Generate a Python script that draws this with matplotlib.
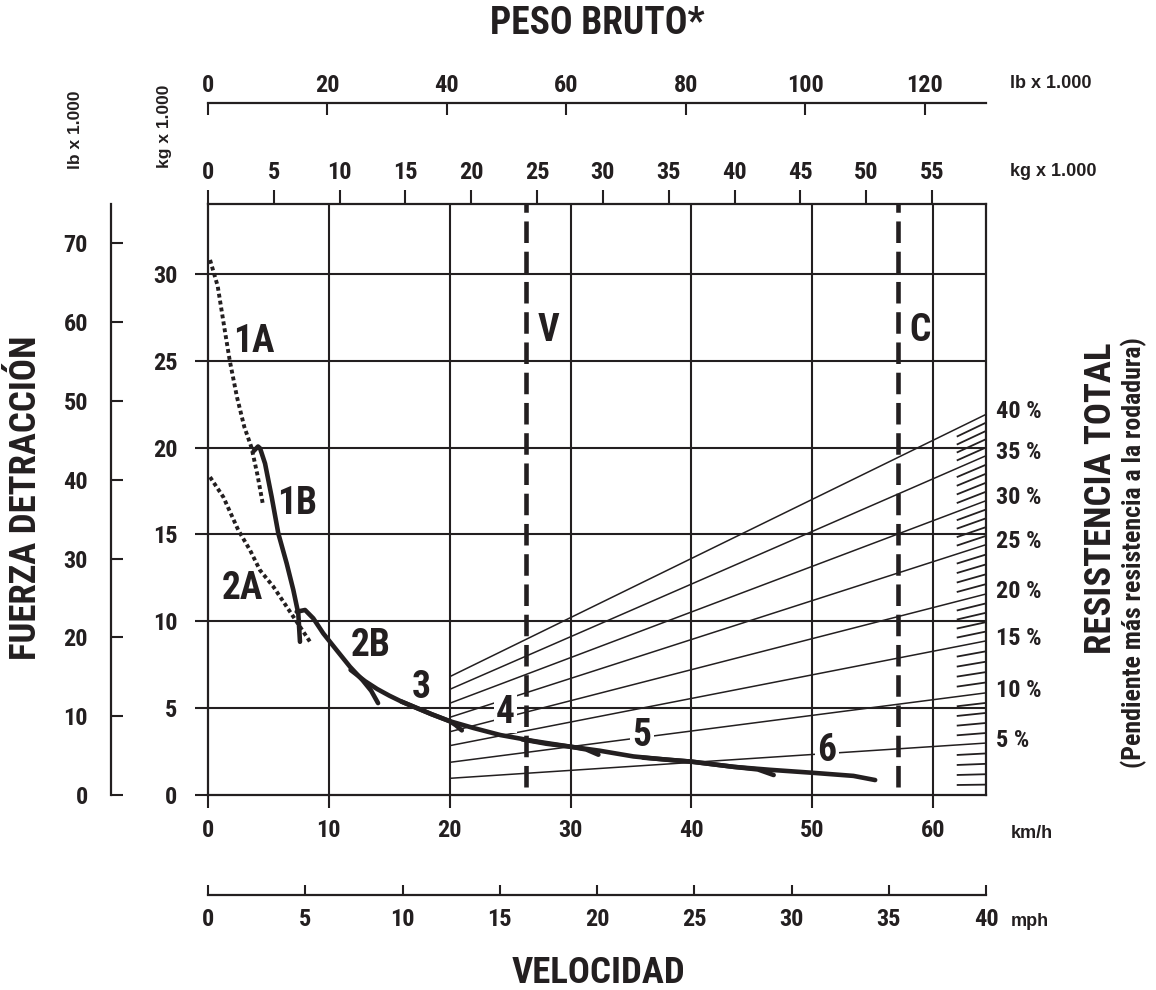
import os
import matplotlib
matplotlib.use("Agg")
import matplotlib.pyplot as plt
from matplotlib import font_manager as fm

W, H = 1156, 990
INK = "#231f20"

# ---- scale limits -------------------------------------------------------
KMH_MAX = 64.37          # = 40 mph
MPH_MAX = 40
FORCE_T_MAX = 34.02      # = 75 lb x 1000
FORCE_LB_MAX = 75
WEIGHT_KG_MAX = 59.1
WEIGHT_LB_MAX = 130.3

# ---- tick values --------------------------------------------------------
kmh_ticks = [0, 10, 20, 30, 40, 50, 60]
mph_ticks = [0, 5, 10, 15, 20, 25, 30, 35, 40]
force_t_ticks = [0, 5, 10, 15, 20, 25, 30]
force_lb_ticks = [0, 10, 20, 30, 40, 50, 60, 70]
weight_kg_ticks = [0, 5, 10, 15, 20, 25, 30, 35, 40, 45, 50, 55]
weight_lb_ticks = [0, 20, 40, 60, 80, 100, 120]

# ---- rimpull curves per gear (km/h, kg x 1000) --------------------------
gear_1a_v = [0.17, 0.8, 1.4, 1.8, 2.4, 3.0, 3.6, 4.1, 4.55]
gear_1a_f = [30.8, 29.3, 26.7, 25.0, 22.9, 21.2, 20.0, 18.4, 16.7]

gear_1b_v = [3.78, 4.14, 4.31, 4.72, 5.27, 5.82, 6.51, 7.06, 7.47, 7.61]
gear_1b_f = [19.8, 20.06, 19.95, 19.08, 17.15, 15.05, 13.33, 11.8, 10.45, 8.82]

gear_2a_v = [0.17, 1.27, 2.51, 3.48, 4.3, 5.41, 6.51, 7.34, 8.44]
gear_2a_f = [18.3, 17.15, 15.24, 14.09, 12.94, 11.99, 10.84, 9.97, 8.82]

gear_2b_v = [7.34, 8.03, 8.71, 9.54, 10.64, 11.75, 12.8, 13.5, 14.07]
gear_2b_f = [10.55, 10.65, 10.17, 9.3, 8.34, 7.38, 6.6, 6.0, 5.29]

gear_3_v = [11.8, 13.0, 14.0, 15.0, 16.0, 17.3, 18.5, 20.0, 20.5, 21.0]
gear_3_f = [7.2, 6.55, 6.1, 5.72, 5.38, 5.0, 4.65, 4.25, 4.02, 3.72]

gear_4_v = [16.0, 17.3, 18.5, 20.0, 22.0, 24.2, 27.0, 30.0, 31.3, 32.3]
gear_4_f = [5.38, 5.0, 4.65, 4.25, 3.85, 3.45, 3.1, 2.78, 2.62, 2.32]

gear_5_v = [26.0, 28.0, 30.0, 32.4, 35.2, 38.0, 40.0, 43.5, 45.5, 46.8]
gear_5_f = [3.2, 2.95, 2.78, 2.55, 2.22, 2.03, 1.92, 1.62, 1.47, 1.15]

gear_6_v = [36.0, 40.0, 43.5, 46.5, 50.0, 53.4, 55.2]
gear_6_f = [2.15, 1.92, 1.62, 1.45, 1.28, 1.1, 0.86]

# ---- total resistance lines (value at 20 km/h and at the right edge) ----
grade_pct = [5, 10, 15, 20, 25, 30, 35, 40]
grade_left_t = [0.96, 1.88, 2.84, 3.64, 4.47, 5.28, 6.08, 6.81]
grade_right_t = [2.99, 5.88, 8.87, 11.57, 14.41, 16.94, 19.53, 21.91]
GRADE_START_KMH = 20

# ---- speed limits of the two body configurations -----------------------
limit_names = ["V", "C"]
limit_kmh = [26.3, 57.05]


# ---- fonts ---------------------------------------------------------------
def condensed_bold():
    """Pick an installed condensed/narrow bold face, else DejaVu condensed."""
    order = ["liberation sans narrow", "roboto condensed", "open sans condensed",
             "noto sans", "open sans", "roboto", "dejavu sans"]
    best = None
    for f in fm.fontManager.ttflist:
        low = os.path.basename(f.fname).lower()
        if not ("narrow" in low or "condensed" in low):
            continue
        if any(k in low for k in ("semi", "extra", "ultra", "italic", "oblique")):
            continue
        w = f.weight if isinstance(f.weight, int) else fm.weight_dict.get(f.weight, 400)
        name = f.name.lower()
        rank = next((i for i, o in enumerate(order) if name.startswith(o)), len(order))
        key = (abs(w - 700), rank)
        if best is None or key < best[0]:
            best = (key, f.fname)
    if best is not None and best[0][0] <= 100:
        return dict(fontproperties=fm.FontProperties(fname=best[1]))
    return dict(family="DejaVu Sans", stretch="condensed", weight="bold")


NARROW = condensed_bold()
BOLD = dict(family="Liberation Sans", weight="bold")


def narrow(size):
    kw = dict(NARROW)
    if "fontproperties" in kw:
        fp = kw["fontproperties"].copy()
        fp.set_size(size)
        return dict(fontproperties=fp)
    kw["fontsize"] = size
    return kw


fig = plt.figure(figsize=(W / 100, H / 100), dpi=100)
fig.patch.set_facecolor("white")


def place(x0, y0, x1, y1):
    return fig.add_axes([x0 / W, 1 - y1 / H, (x1 - x0) / W, (y1 - y0) / H])


def ftext(x, y, s, **kw):
    fig.text(x / W, 1 - y / H, s, color=INK, **kw)


TICK = 17.5
MARK = 27
TITLE = 26.5

# ---- main chart: speed vs rimpull ---------------------------------------
ax = place(208, 204, 986, 795)
ax.set_xlim(0, KMH_MAX)
ax.set_ylim(0, FORCE_T_MAX)
ax.set_facecolor("none")
for s in ax.spines.values():
    s.set_linewidth(1.6)
    s.set_color(INK)
ax.set_xticks(kmh_ticks, labels=[str(t) for t in kmh_ticks], color=INK, **narrow(TICK))
ax.set_yticks(force_t_ticks, labels=[str(t) for t in force_t_ticks], color=INK, **narrow(TICK))
ax.tick_params(axis="both", direction="out", length=9.4, width=1.5, color=INK)
ax.tick_params(axis="x", pad=8.0)
ax.tick_params(axis="y", pad=12.5)

ax.vlines(kmh_ticks[1:], 0, FORCE_T_MAX, color=INK, lw=1.5, zorder=1.5)
ax.hlines(force_t_ticks[1:], 0, KMH_MAX, color=INK, lw=1.5, zorder=1.5)

# total resistance fan
for lt, rt in zip(grade_left_t, grade_right_t):
    ax.plot([GRADE_START_KMH, KMH_MAX], [lt, rt], color=INK, lw=1.1, zorder=2,
            solid_capstyle="butt")

# 1 % scale marks along the right edge, following the fan
fan_l = [0.0] + grade_left_t
fan_r = [0.0] + grade_right_t
hatch_from = 61.95
span = KMH_MAX - GRADE_START_KMH
for p in range(1, grade_pct[-1]):
    if p % 5 == 0:
        continue
    i, frac = divmod(p, 5)
    lt = fan_l[i] + (fan_l[i + 1] - fan_l[i]) * frac / 5
    rt = fan_r[i] + (fan_r[i + 1] - fan_r[i]) * frac / 5
    y0 = lt + (rt - lt) * (hatch_from - GRADE_START_KMH) / span
    ax.plot([hatch_from, KMH_MAX], [y0, rt], color=INK, lw=1.3, zorder=2,
            solid_capstyle="butt")

for pct, rt in zip(grade_pct, grade_right_t):
    ax.annotate(f"{pct} %", xy=(KMH_MAX, rt), xytext=(7, 2), textcoords="offset points",
                ha="left", va="center", color=INK, annotation_clip=False, **narrow(TICK))

# speed limits
for name, v in zip(limit_names, limit_kmh):
    ax.plot([v, v], [0.47, FORCE_T_MAX], color=INK, lw=3.3, dashes=(4.7, 1.9),
            dash_capstyle="butt", zorder=4)
    ax.text(v + 0.95, 26.75, name, ha="left", va="center", color=INK, zorder=4,
            **narrow(MARK))

# gear curves
dotted = dict(color=INK, lw=2.8, dashes=(1.0, 0.8), dash_capstyle="butt", zorder=5)
solid = dict(color=INK, lw=3.3, solid_capstyle="round", solid_joinstyle="round", zorder=5)
ax.plot(gear_1a_v, gear_1a_f, **dotted)
ax.plot(gear_2a_v, gear_2a_f, **dotted)
for gv, gf in [(gear_1b_v, gear_1b_f), (gear_2b_v, gear_2b_f), (gear_3_v, gear_3_f),
               (gear_4_v, gear_4_f), (gear_5_v, gear_5_f), (gear_6_v, gear_6_f)]:
    ax.plot(gv, gf, **solid)

gear_labels = ["1A", "1B", "2A", "2B", "3", "4", "5", "6"]
gear_label_pos = [(3.77, 26.1), (7.4, 16.8), (2.81, 11.9), (13.5, 8.6),
                  (17.67, 6.19), (24.6, 4.75), (35.9, 3.42), (51.2, 2.56)]
for lab, (lx, ly) in zip(gear_labels, gear_label_pos):
    kw = {}
    if lab in ("4", "5", "6"):
        kw["bbox"] = dict(facecolor="white", edgecolor="none", pad=1.5)
    ax.text(lx, ly, lab, ha="center", va="center", color=INK, zorder=3,
            **narrow(MARK), **kw)

# ---- top scale: gross weight in kg x 1000 -------------------------------
axk = ax.twiny()
axk.set_xlim(0, WEIGHT_KG_MAX)
for s in axk.spines.values():
    s.set_visible(False)
axk.set_xticks(weight_kg_ticks, labels=[str(t) for t in weight_kg_ticks], color=INK,
               **narrow(TICK))
axk.tick_params(axis="x", direction="out", length=10, width=1.5, color=INK, pad=4.5)

# ---- top scale: gross weight in lb x 1000 -------------------------------
axl = place(208, 103, 986, 140)
axl.set_xlim(0, WEIGHT_LB_MAX)
axl.set_ylim(0, 1)
axl.patch.set_visible(False)
for k in ("left", "right", "bottom"):
    axl.spines[k].set_visible(False)
axl.spines["top"].set_linewidth(1.6)
axl.spines["top"].set_color(INK)
axl.xaxis.set_ticks_position("top")
axl.set_xticks(weight_lb_ticks, labels=[str(t) for t in weight_lb_ticks], color=INK,
               **narrow(TICK))
axl.tick_params(axis="x", direction="in", length=8.6, width=1.5, color=INK, pad=4.5)
axl.set_yticks([])

# ---- left outer scale: rimpull in lb x 1000 ------------------------------
axf = place(111, 204, 160, 795)
axf.set_ylim(0, FORCE_LB_MAX)
axf.set_xlim(0, 1)
axf.patch.set_visible(False)
for k in ("top", "right", "bottom"):
    axf.spines[k].set_visible(False)
axf.spines["left"].set_linewidth(1.6)
axf.spines["left"].set_color(INK)
axf.set_yticks(force_lb_ticks, labels=[str(t) for t in force_lb_ticks], color=INK,
               **narrow(TICK))
axf.tick_params(axis="y", direction="in", length=8.6, width=1.5, color=INK, pad=16.5)
axf.set_xticks([])

# ---- bottom outer scale: speed in mph -----------------------------------
axm = place(208, 860, 986, 895)
axm.set_xlim(0, MPH_MAX)
axm.set_ylim(0, 1)
axm.patch.set_visible(False)
for k in ("top", "right", "left"):
    axm.spines[k].set_visible(False)
axm.spines["bottom"].set_linewidth(1.6)
axm.spines["bottom"].set_color(INK)
axm.set_xticks(mph_ticks, labels=[str(t) for t in mph_ticks], color=INK, **narrow(TICK))
axm.tick_params(axis="x", direction="in", length=7.2, width=1.5, color=INK, pad=9.5)
axm.set_yticks([])

# ---- titles and units ---------------------------------------------------
ftext(597, 24, "PESO BRUTO*", ha="center", va="center", **narrow(TITLE + 0.5))
ftext(598, 973, "VELOCIDAD", ha="center", va="center", **narrow(TITLE))
ftext(26, 498, "FUERZA DETRACCIÓN", ha="center", va="center", rotation=90,
      **narrow(TITLE))
ftext(1101, 654, "RESISTENCIA TOTAL", ha="center", va="bottom", rotation=90,
      **narrow(TITLE))
ftext(1134, 768, "(Pendiente más resistencia a la rodadura)", ha="center", va="bottom",
      rotation=90, **narrow(18.5))

ftext(1010, 83, "lb x 1.000", ha="left", va="center", fontsize=13, **BOLD)
ftext(1010, 172, "kg x 1.000", ha="left", va="center", fontsize=13, **BOLD)
ftext(1011, 833, "km/h", ha="left", va="center", fontsize=13, **BOLD)
ftext(1011, 922, "mph", ha="left", va="center", fontsize=13, **BOLD)
ftext(75, 130, "lb x 1.000", ha="center", va="center", rotation=90, fontsize=12.5, **BOLD)
ftext(165, 126, "kg x 1.000", ha="center", va="center", rotation=90, fontsize=12.5, **BOLD)

fig.savefig("out.png", dpi=100, facecolor="white")
